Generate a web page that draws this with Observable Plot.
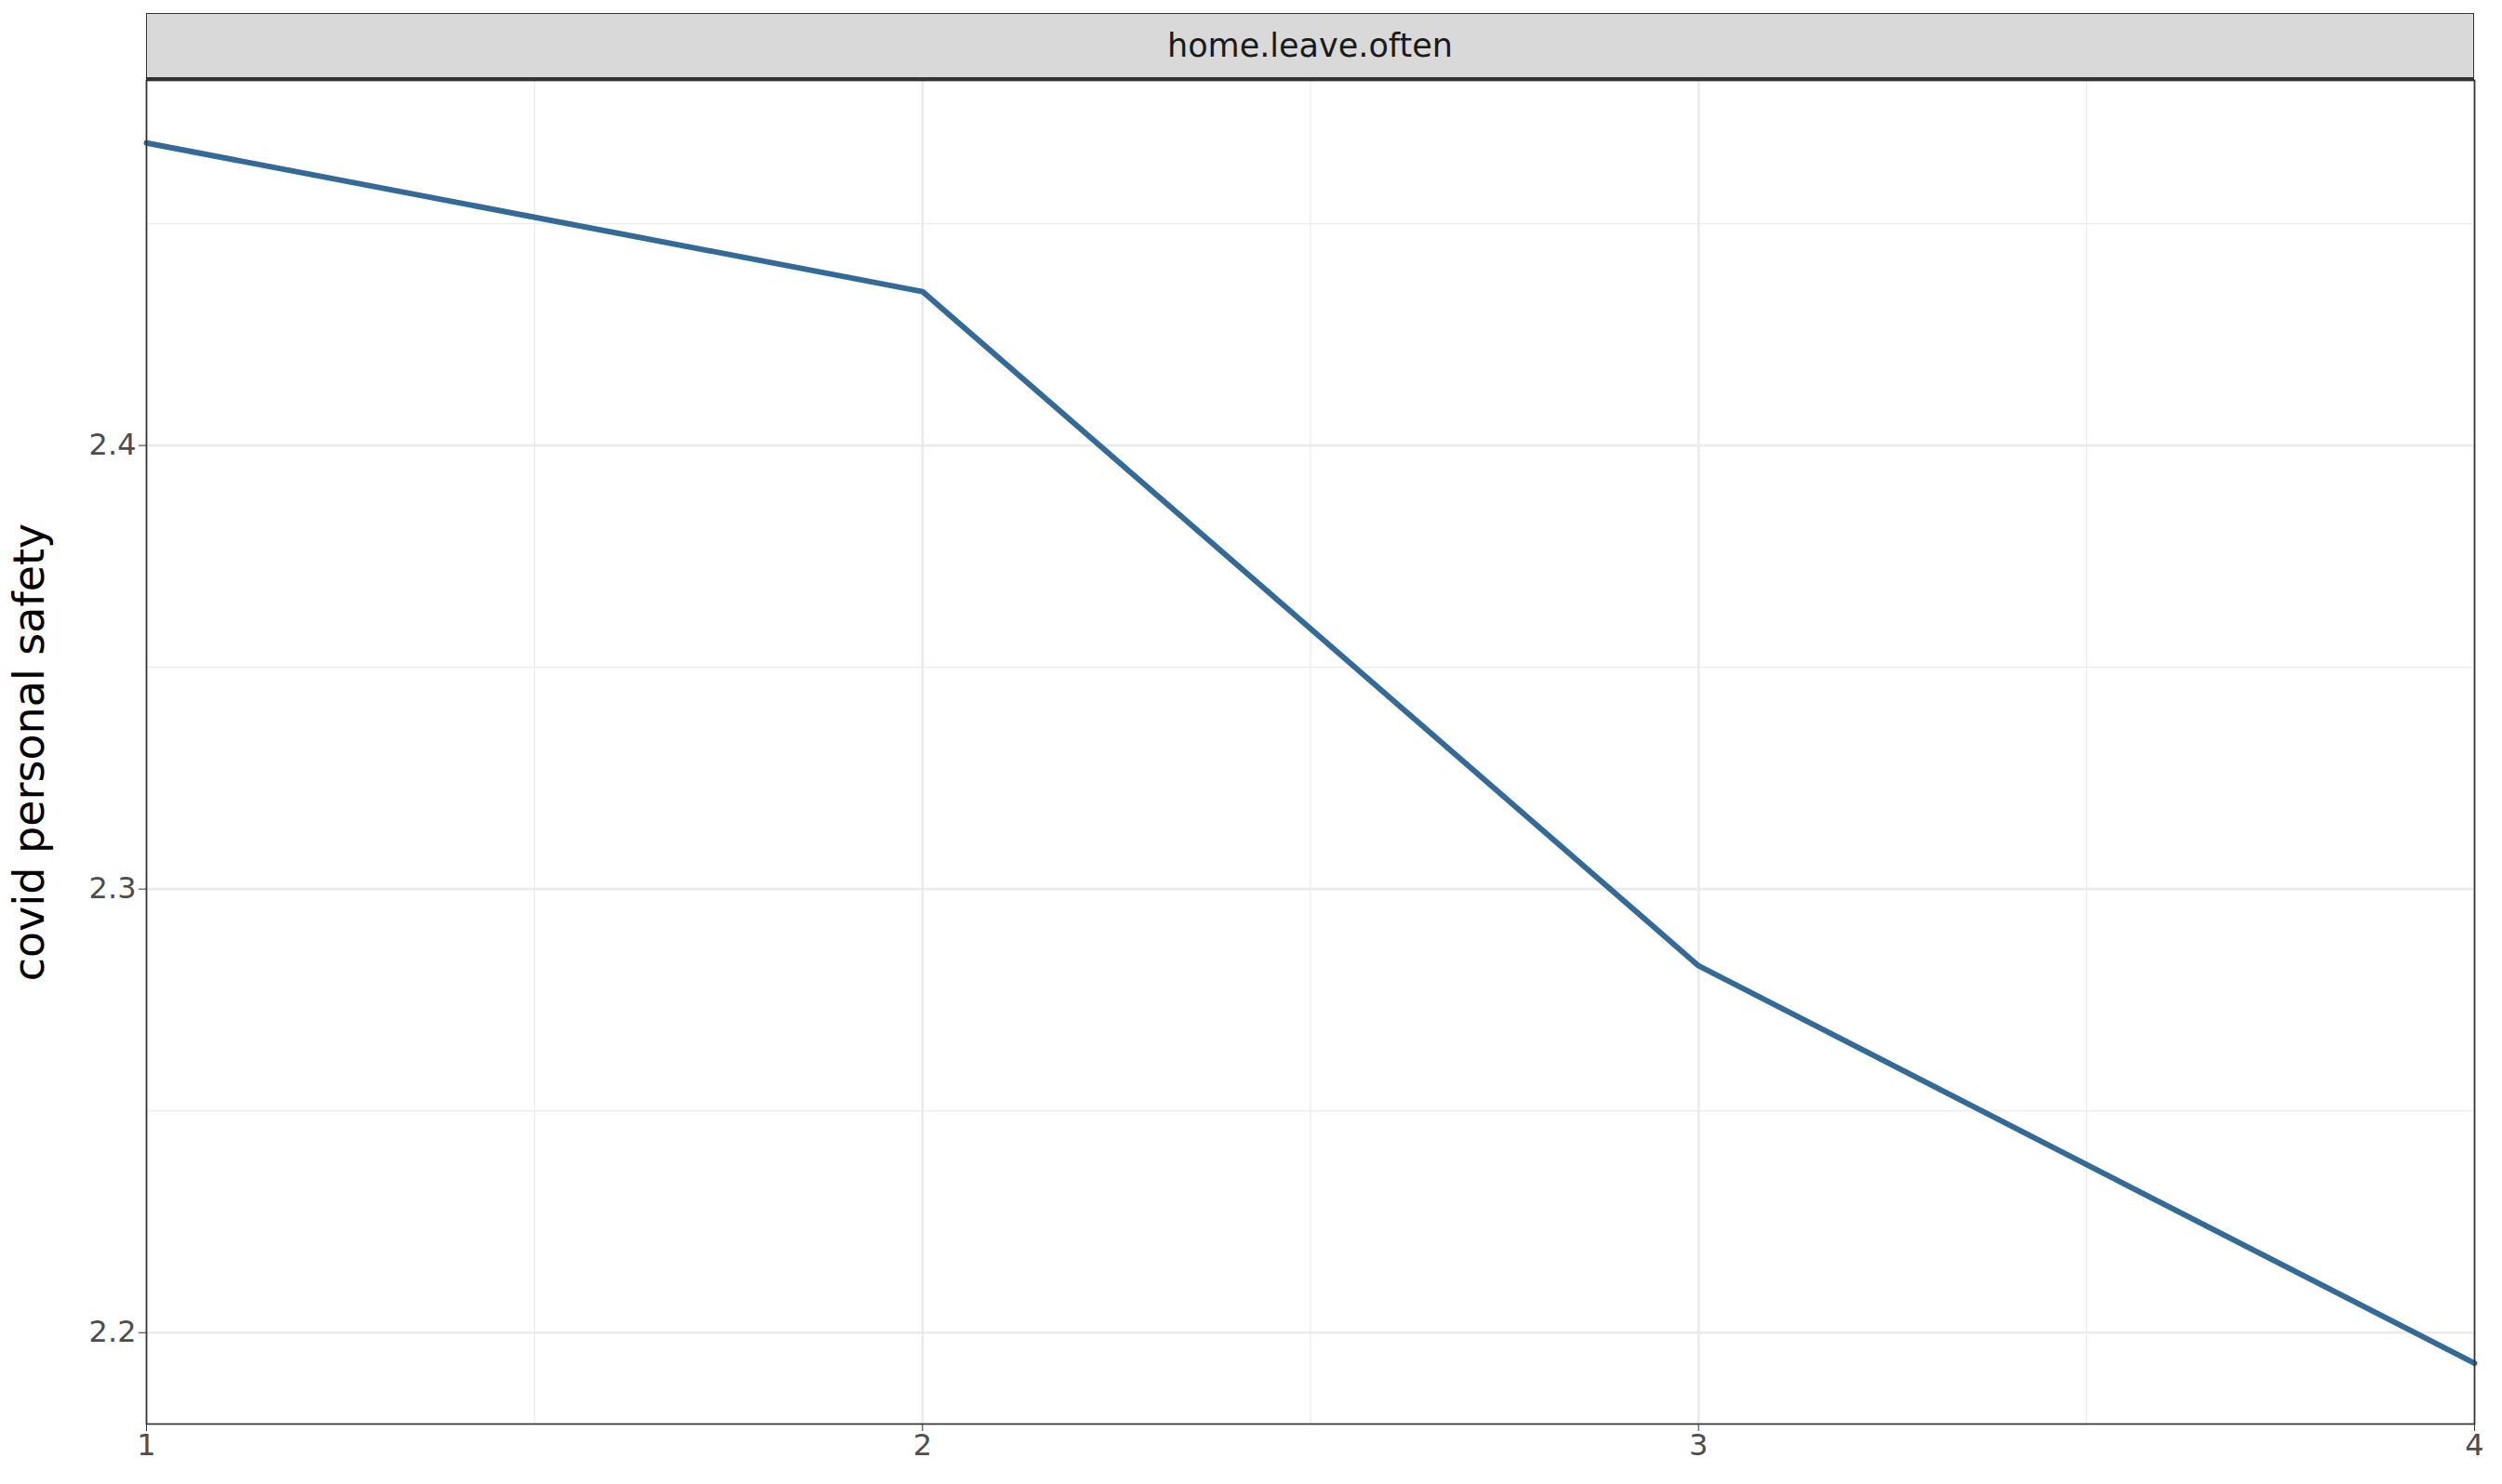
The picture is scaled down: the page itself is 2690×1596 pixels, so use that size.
<!DOCTYPE html>
<html><head><meta charset="utf-8">
<script src="https://cdn.jsdelivr.net/npm/d3@7"></script>
<script src="https://cdn.jsdelivr.net/npm/@observablehq/plot@0.6"></script>
<style>
body{margin:0;background:#fff;font-family:"DejaVu Sans",sans-serif;}
#wrap{position:relative;width:2690px;height:1596px;}
#strip{position:absolute;left:157px;top:14px;width:2503px;height:72px;background:#d9d9d9;border:1.7px solid #333;border-bottom:3.5px solid #333;box-sizing:border-box;display:flex;align-items:center;justify-content:center;font-size:35px;color:#1a1a1a;}
</style></head><body>
<div id="wrap"><div id="strip">home.leave.often</div></div>
<script>
const xValues = [1, 2, 3, 4];
const yValues = [2.4682, 2.4347, 2.2827, 2.1931];
const xTicks = [1, 2, 3, 4];
const yTicks = [2.2, 2.3, 2.4];
const xMinor = [1.5, 2.5, 3.5];
const yMinor = [2.25, 2.35, 2.45];
const data = xValues.map((x, i) => ({x, y: yValues[i]}));
const chart = Plot.plot({
  width: 2690, height: 1596,
  marginLeft: 157, marginRight: 30, marginTop: 86, marginBottom: 65,
  style: {fontFamily: "DejaVu Sans, sans-serif", fontSize: "32px", color: "#4d4d4d", background: "#fff"},
  x: {domain: [1, 4], ticks: xTicks, label: null, tickFormat: d3.format("d")},
  y: {domain: [2.1794, 2.4823], ticks: yTicks, label: null, tickFormat: d3.format(".1f")},
  marks: [
    Plot.ruleX(xMinor, {stroke: "#ebebeb", strokeWidth: 1.3}),
    Plot.ruleY(yMinor, {stroke: "#ebebeb", strokeWidth: 1.3}),
    Plot.ruleX(xTicks, {stroke: "#ebebeb", strokeWidth: 2.7}),
    Plot.ruleY(yTicks, {stroke: "#ebebeb", strokeWidth: 2.7}),
    Plot.line(data, {x: "x", y: "y", stroke: "#336a98", strokeWidth: 6}),
    Plot.frame({stroke: "#333", strokeWidth: 1.7}),
    Plot.axisX({ticks: xTicks, tickSize: 8, tickFormat: d3.format("d"), fill: "#4d4d4d", stroke: "#333", fontSize: 32}),
    Plot.axisY({ticks: yTicks, tickSize: 8, tickFormat: d3.format(".1f"), fill: "#4d4d4d", stroke: "#333", fontSize: 32, label: null}),
    Plot.text(["covid personal safety"], {frameAnchor: "left", textAnchor: "middle", dx: -125, rotate: -90, fontSize: 46, fill: "#000"})
  ]
});
document.getElementById("wrap").prepend(chart);
</script></body></html>
